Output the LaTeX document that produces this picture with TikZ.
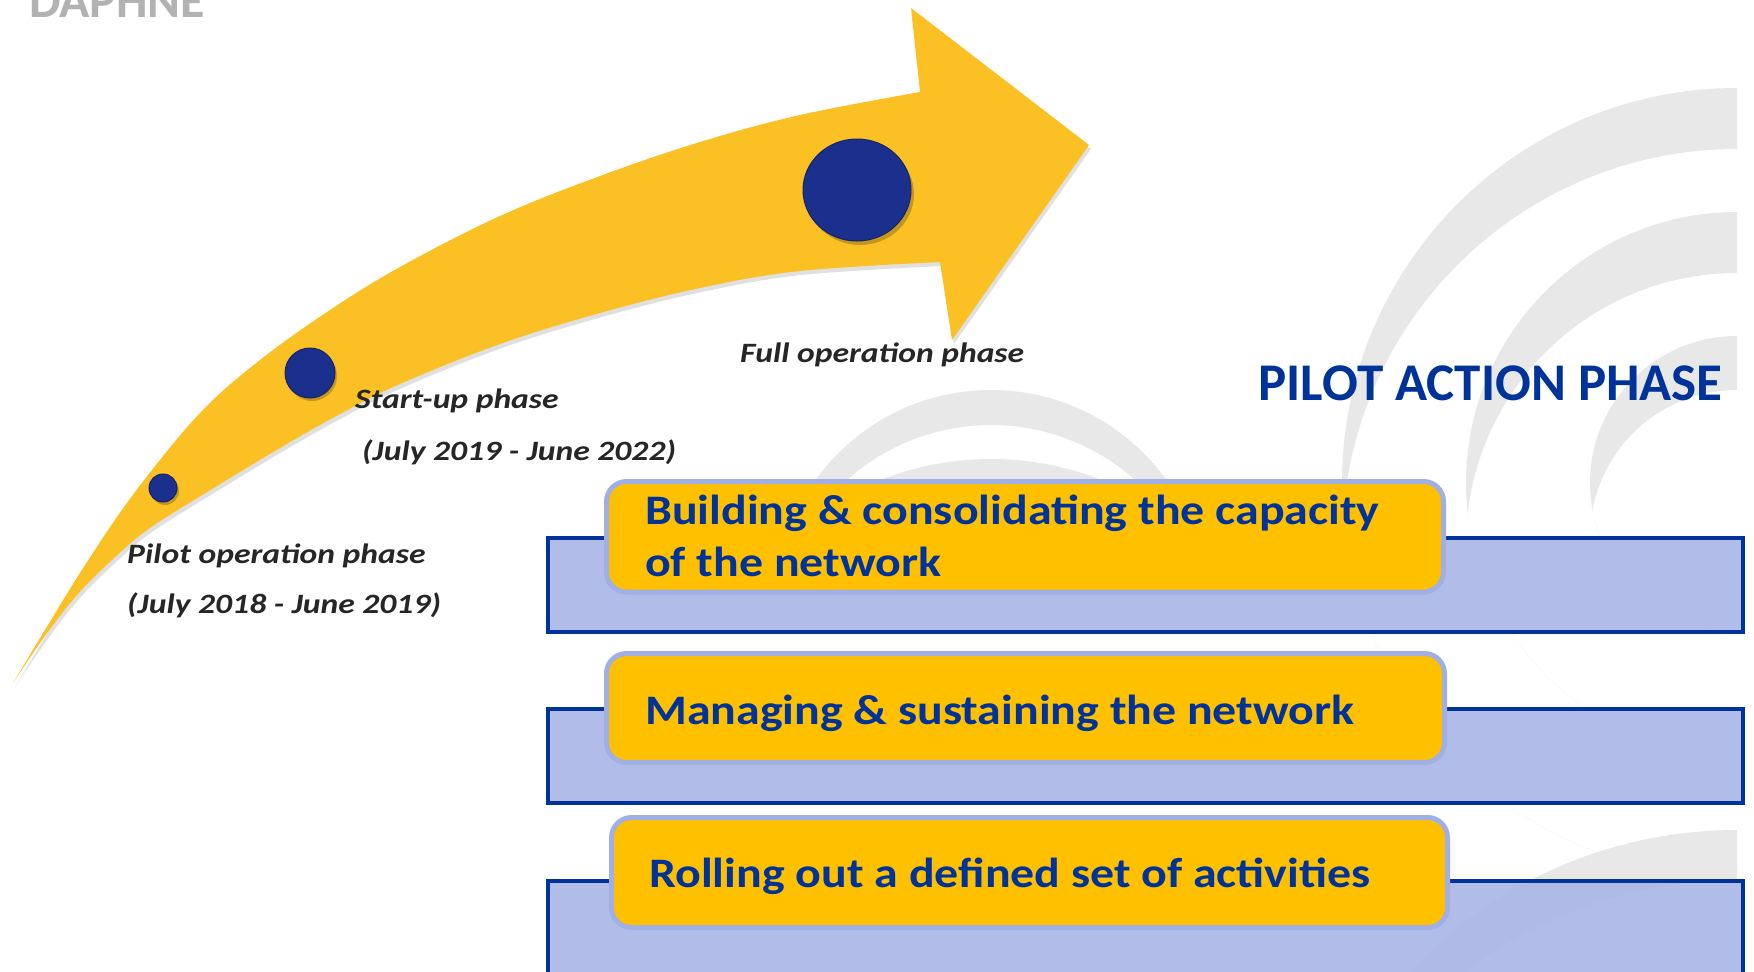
\documentclass[tikz,border=0pt]{standalone}
\usepackage{fontspec}
\setmainfont{Carlito}
\newfontfamily\boxfont{Carlito}[FakeStretch=1.14]
\newfontfamily\lblfont{Carlito}[FakeStretch=1.2]
\usetikzlibrary{shapes.geometric}
\definecolor{navy}{HTML}{1B2F8C}
\definecolor{navyd}{HTML}{14236E}
\definecolor{arrowy}{HTML}{FBC124}
\definecolor{boxy}{HTML}{FFC000}
\definecolor{lav}{HTML}{A9B6E6}
\definecolor{lavb}{HTML}{A0AFE4}
\definecolor{dblue}{HTML}{003399}
\definecolor{wm}{HTML}{E8E8E8}
\newcommand\wmcres[4]{%
  \begin{scope}
    \clip (#1,#2) circle[radius=#3pt];
    \fill[wm,even odd rule] (#1,#2) circle[radius=#3pt] (#1,#2+#4) circle[radius=#3pt];
  \end{scope}}
\begin{document}
\begin{tikzpicture}[x=1pt,y=-1pt,
  lbl/.style={font=\lblfont\fontsize{28}{34}\selectfont\bfseries\itshape, text=black!85, inner sep=0pt},
  btxt/.style={font=\boxfont\fontsize{42}{52}\selectfont\bfseries, text=dblue, inner sep=0pt, align=left},
  lavrect/.style={draw=dblue, line width=4pt, fill=lav, fill opacity=0.9, draw opacity=1, inner sep=0pt},
  ybox/.style={draw=lavb, line width=5pt, fill=boxy, rounded corners=20pt, inner sep=0pt},
  dot/.style={fill=navy, draw=navyd, line width=1pt},
  dotshadow/.style={fill=black, opacity=0.22}]
\useasboundingbox (0,0) rectangle (1754,972);
\clip (0,0) rectangle (1754,972);
\fill[white] (0,0) rectangle (1754,972);

% watermark
\begin{scope}
  \clip (0,0) rectangle (1737,972);
  \wmcres{1737}{483}{395}{61}
  \wmcres{1737}{483}{271}{61}
  \wmcres{1737}{483}{147}{54}
  \wmcres{1737}{1279}{449}{50}
\end{scope}
\begin{scope}
  \clip (0,0) rectangle (1754,540);
  \wmcres{991}{606}{216}{35}
  \wmcres{991}{759}{300}{30}
\end{scope}

\def\arrowpath{plot[smooth, tension=0.6] coordinates {(13,683) (48,625) (87,562) (135,492) (200,413) (260,360) (330,310) (400,267) (500,216) (600,176) (700,142) (800,115) (920,92)} -- (911,8) -- (1089,145) -- (952,340) -- plot[smooth, tension=0.6] coordinates {(940,262) (800,271) (700,288) (600,313) (500,344) (400,384) (340,414) (280,448) (217,486) (150,528) (112,560) (77,595) (45,636) (13,683)} -- cycle}
% arrow shadow
\begin{scope}[shift={(2,4)}]
\fill[black, opacity=0.12] \arrowpath;
\end{scope}
% arrow
\fill[arrowy] \arrowpath;

% phase dots
\fill[dotshadow] (165,491) circle[radius=14pt];
\node[dot, circle, minimum size=28pt, inner sep=0pt] (dpilot) at (163,488) {};
\fill[dotshadow] (312,376) circle[radius=25pt];
\node[dot, circle, minimum size=50pt, inner sep=0pt] (dstart) at (310,373) {};
\fill[dotshadow] (860,194) ellipse[x radius=54pt, y radius=51pt];
\node[dot, ellipse, minimum width=108pt, minimum height=102pt, inner sep=0pt] (dfull) at (857,190) {};

% phase labels
\node[lbl, anchor=base west] (pilot) at (127,563) {Pilot operation phase};
\node[lbl, anchor=base west] (pilotd) at (127,613) {(July 2018 - June 2019)};
\node[lbl, anchor=base west] (start) at (355,408) {Start-up phase};
\node[lbl, anchor=base west] (startd) at (362,460) {(July 2019 - June 2022)};
\node[lbl, anchor=base west] (full) at (740,362) {Full operation phase};

% title
\node[anchor=base east, font=\fontsize{53}{60}\selectfont\bfseries, text=dblue, inner sep=0pt] (title) at (1723,400) {PILOT ACTION PHASE};
\node[anchor=base west, font=\fontsize{50}{60}\selectfont\bfseries, text=black!30, inner sep=0pt] (logo) at (29,17) {DAPHNE};

% lavender bars
\node[lavrect, minimum width=1195pt, minimum height=94pt] (r1) at (1145.5,585) {};
\node[lavrect, minimum width=1195pt, minimum height=94pt] (r2) at (1145.5,756) {};
\node[lavrect, minimum width=1195pt, minimum height=129pt] (r3) at (1145.5,945.5) {};

% yellow boxes
\node[ybox, minimum width=837pt, minimum height=110.5pt] (b1) at (1025,536.75) {};
\node[ybox, minimum width=838pt, minimum height=109pt] (b2) at (1025.5,708) {};
\node[ybox, minimum width=836pt, minimum height=110pt] (b3) at (1029.5,872.5) {};

\node[btxt, anchor=base west] (t1) at (645,576) {Building \& consolidating the capacity\\of the network};
\node[btxt, anchor=base west] (t2) at (645,724) {Managing \& sustaining the network};
\node[btxt, anchor=base west] (t3) at (649,887) {Rolling out a defined set of activities};
\end{tikzpicture}
\end{document}
